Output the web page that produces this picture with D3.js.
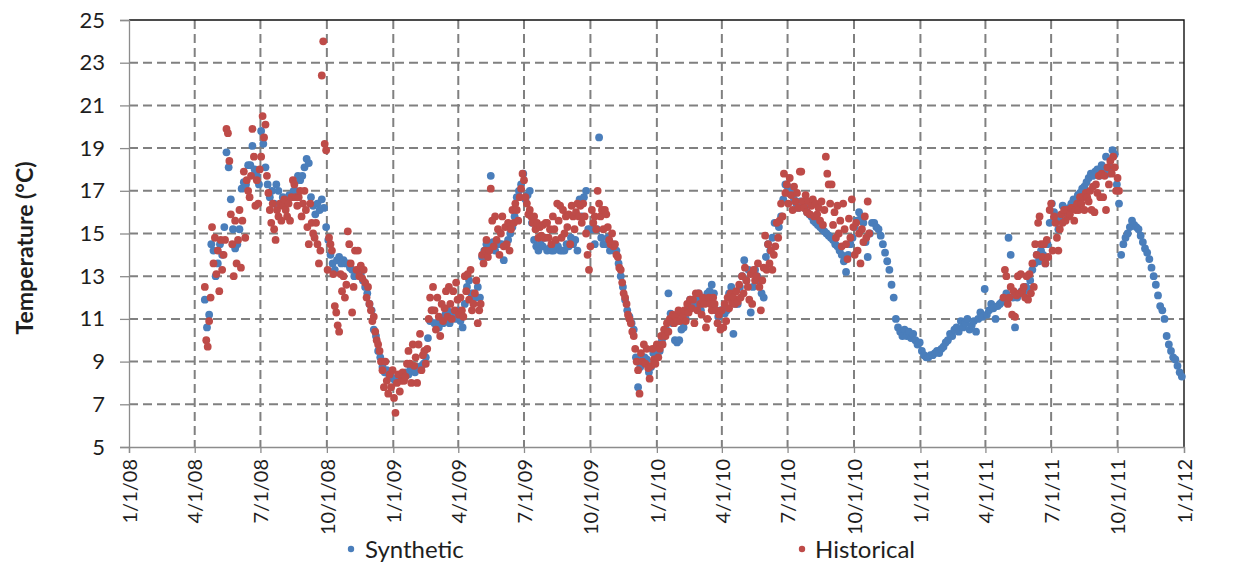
<!DOCTYPE html>
<html>
<head>
<meta charset="utf-8">
<script src="https://cdn.jsdelivr.net/npm/d3@7"></script>
<style>
  body { margin: 0; background: #ffffff; }
  svg { display: block; }
  text { font-family: Lato, "Open Sans", "Liberation Sans", sans-serif; fill: #1e1e1e; }
</style>
</head>
<body>
<svg id="chart" width="1237" height="566"></svg>
<script>
// ---------------- DATA ----------------
const yTickValues = [5, 7, 9, 11, 13, 15, 17, 19, 21, 23, 25];
const xTickLabels = ["1/1/08", "4/1/08", "7/1/08", "10/1/08", "1/1/09", "4/1/09", "7/1/09", "10/1/09",
  "1/1/10", "4/1/10", "7/1/10", "10/1/10", "1/1/11", "4/1/11", "7/1/11", "10/1/11", "1/1/12"];
const seriesNames = ["Synthetic", "Historical"];
const yTitle = "Temperature (°C)";

// Synthetic: one reading every 3 days from 2008-04-15
const synthStart = "2008-04-15";
const synthStepDays = 3;
const synthetic = [
  11.9, 10.6, 11.2, 14.5, 14.2, 13.0, 13.6, 14.5, 14.0, 15.3, 18.8, 18.1, 16.6, 15.2,
  14.3, 14.5, 15.2, 17.1, 17.4, 17.3, 18.2, 18.2, 19.1, 18.0, 17.7, 17.3, 19.8, 19.2, 18.1, 17.3, 16.7, 17.0,
  16.4, 17.3, 17.0, 16.4, 16.7, 16.4, 16.5, 16.8, 16.7, 17.0, 17.0, 17.7, 17.5, 17.7, 18.1, 18.5, 18.3,
  16.7, 16.3, 15.9, 16.4, 16.1, 16.6, 16.2, 15.3, 14.7, 14.0, 13.6, 13.3, 13.75, 13.9, 13.6, 13.75, 13.6,
  13.6, 13.4, 13.3, 13.0, 13.2, 13.3, 13.1, 12.8, 12.5, 12.2, 11.7, 11.4, 10.5, 10.2, 9.5, 9.2, 8.75,
  8.5, 8.6, 8.4, 8.3, 8.2, 8.1, 8.2, 8.3, 8.2, 8.3, 8.5, 8.4, 8.75, 8.6, 8.5, 8.75, 8.7,
  8.8, 8.9, 9.2, 10.1, 10.9, 11.4, 10.8, 10.8, 10.6, 11.0, 10.8, 11.2, 11.4, 10.8, 11.2, 11.3, 11.0,
  11.4, 10.9, 10.6, 11.7, 12.5, 12.8, 12.2, 12.2, 12.0, 12.5, 12.0, 13.9, 14.2, 14.5, 14.3, 17.7, 14.6,
  14.2, 14.5, 14.5, 14.5, 13.75, 14.5, 14.7, 15.0, 15.3, 15.8, 16.7, 17.0, 17.3, 17.8, 16.6, 16.8, 17.0,
  15.5, 14.7, 14.4, 14.2, 14.5, 14.4, 14.8, 14.2, 14.3, 14.2, 14.2, 14.5, 14.4, 14.2, 14.2, 14.2, 14.5,
  14.4, 14.8, 14.5, 14.7, 14.2, 16.6, 15.8, 16.7, 17.0, 15.2, 15.2, 15.2, 14.5, 15.2, 19.5, 14.8, 14.5,
  14.5, 14.8, 14.2, 14.5, 14.2, 14.2, 13.6, 13.0, 12.5, 11.9, 11.4, 11.1, 10.8, 10.5, 9.2, 7.8, 8.75,
  9.1, 9.2, 9.1, 8.5, 8.75, 9.4, 9.4, 9.2, 9.5, 10.0, 10.2, 10.5, 12.2, 11.25, 10.8, 10.0, 9.9,
  10.0, 10.5, 10.6, 11.0, 11.4, 11.9, 11.7, 11.7, 12.0, 12.2, 11.4, 11.9, 11.9, 12.2, 12.3, 12.6, 12.2,
  11.4, 11.1, 11.4, 11.4, 11.25, 11.4, 12.2, 12.5, 10.3, 11.7, 11.7, 12.5, 13.0, 13.75, 12.8, 13.3, 11.3,
  12.5, 13.3, 13.0, 12.8, 12.2, 12.0, 13.9, 14.5, 14.2, 14.8, 15.5, 15.5, 15.3, 15.8, 16.6, 17.3, 17.2,
  17.0, 16.8, 16.6, 16.4, 16.2, 16.5, 16.4, 16.2, 16.0, 15.9, 15.8, 15.6, 15.5, 15.4, 15.3, 15.2, 15.1,
  15.0, 14.9, 14.8, 14.7, 14.5, 14.4, 14.2, 14.0, 13.7, 13.2, 14.0, 14.5, 14.8, 15.3, 15.6, 16.0, 15.8,
  15.5, 14.6, 13.9, 15.0, 15.5, 15.5, 15.3, 15.2, 14.9, 14.5, 14.1, 13.7, 13.3, 12.6, 12.0, 11.0, 10.6,
  10.4, 10.2, 10.5, 10.2, 10.4, 10.1, 10.3, 10.0, 9.8, 9.9, 9.5, 9.3, 9.2, 9.2, 9.3, 9.3, 9.4,
  9.5, 9.4, 9.6, 9.7, 9.9, 10.0, 10.3, 10.2, 10.5, 10.6, 10.4, 10.9, 10.6, 10.8, 11.0, 10.5, 10.7,
  10.9, 10.4, 11.0, 11.3, 11.1, 12.4, 11.2, 11.4, 11.7, 11.5, 11.0, 11.6, 11.7, 11.8, 12.0, 12.2, 14.8,
  14.0, 12.0, 10.6, 12.0, 12.2, 12.3, 12.2, 12.5, 12.4, 12.8, 13.3, 13.6, 14.0, 13.7, 14.2, 14.0, 13.6,
  14.5, 15.5, 16.4, 16.0, 15.8, 15.2, 15.6, 16.3, 16.0, 15.8, 16.2, 16.4, 16.6, 16.5, 16.8, 16.9, 17.1,
  17.2, 17.4, 17.6, 17.8, 17.7, 17.9, 18.0, 17.7, 18.2, 18.0, 18.6, 17.8, 18.1, 18.9, 18.7, 17.3, 16.4,
  14.0, 14.5, 14.8, 15.0, 15.3, 15.6, 15.4, 15.3, 15.2, 14.9, 14.6, 14.3, 14.1, 13.8, 13.4, 13.0, 12.6,
  12.1, 11.6, 11.4, 11.0, 10.2, 9.8, 9.5, 9.2, 9.1, 8.8, 8.5, 8.3
];

// Historical: one reading every 2 days, two recorded periods
const histStepDays = 2;
const histStartA = "2008-04-15";
const historicalA = [
  12.5, 10.0, 9.7, 10.9, 12.0, 15.3, 13.6, 14.8, 13.1, 14.2, 12.3, 14.7, 13.3, 14.0, 14.7,
  19.9, 19.7, 18.4, 15.9, 14.5, 13.0, 15.6, 13.6, 14.7, 16.1, 13.4, 15.6, 17.9, 14.8, 17.5, 17.0,
  16.7, 17.7, 19.9, 18.6, 16.3, 17.5, 16.4, 18.0, 18.6, 20.5, 19.5, 20.1, 17.7, 16.9, 16.1, 15.5,
  16.4, 15.2, 14.7, 16.1, 15.8, 16.4, 15.6, 16.3, 16.6, 16.1, 15.8, 16.4, 15.6, 16.7, 17.5, 17.3,
  16.7, 16.3, 16.7, 17.0, 15.8, 16.4, 17.0, 16.1, 15.3, 14.5, 16.4, 15.5, 15.0, 14.8, 15.5, 14.5,
  13.6, 14.2, 22.4, 24.0, 19.2, 18.9, 13.3, 14.8, 14.5, 14.2, 13.1, 11.6, 11.3, 10.7, 10.4, 13.1,
  12.3, 13.0, 12.0, 12.6, 15.1, 14.5, 13.6, 11.3, 12.5, 14.2, 13.3, 14.2, 13.0, 13.5, 12.9, 13.3,
  12.7, 12.0, 12.5, 11.7, 11.4, 10.9, 11.1, 10.4, 10.0, 9.8, 9.5, 9.0, 8.6, 7.8, 9.0, 8.1,
  7.5, 8.4, 7.8, 8.6, 7.3, 6.6, 8.0, 8.4, 7.6, 8.1, 8.5, 8.1, 8.3, 8.9, 9.5, 8.9,
  8.0, 9.8, 8.8, 9.2, 8.0, 9.8, 10.3, 8.6, 9.3, 9.5, 8.9, 9.6, 11.0, 12.0, 11.4, 12.5,
  11.4, 10.5, 12.0, 11.1, 10.2, 11.7, 10.9, 11.5, 12.3, 11.1, 12.5, 11.7, 11.0, 12.3, 11.4, 12.7,
  11.9, 11.2, 12.0, 11.4, 11.1, 13.0, 12.3, 13.1, 11.9, 13.3, 11.4, 11.7, 12.2, 12.8, 10.8, 11.4,
  11.7, 14.0, 13.6, 14.2, 14.7, 13.9, 14.2, 17.1, 15.6, 14.4, 15.8, 14.7, 15.2, 14.0, 15.0, 15.8,
  14.4, 15.3, 14.5, 15.5, 14.2, 15.2, 16.1, 15.5, 16.4, 16.1, 15.6, 16.7, 17.1, 17.8, 17.5, 16.7,
  16.4, 15.9, 16.1, 15.8, 15.5, 15.8, 15.2, 15.5, 14.8, 15.3, 14.9, 15.4, 14.8, 15.5, 15.5, 14.8,
  15.2, 14.5, 15.8, 15.2, 14.7, 16.4, 15.6, 16.3, 14.8, 16.1, 15.0, 15.8, 15.3, 15.9, 14.5, 16.3,
  15.8, 15.2, 16.0, 16.4, 15.8, 16.3, 15.5, 16.4, 15.8, 15.0, 14.0, 13.3, 14.4, 16.1, 15.5, 15.8,
  15.2, 17.0, 16.4, 15.8, 16.1, 15.2, 16.1, 15.9, 15.3, 14.7, 14.5, 15.0, 14.4, 14.5, 14.0, 13.9,
  13.4, 13.3, 12.7, 12.2, 12.0, 11.7, 11.2, 11.0, 10.8, 10.4, 10.2, 9.6, 9.0, 8.6, 7.5, 9.4,
  9.0, 9.8, 8.9, 9.6, 8.7, 8.2, 8.8, 9.6, 9.1, 8.9, 9.8, 9.2, 9.6, 10.2, 9.8, 10.5,
  10.2, 10.8, 10.4, 11.0, 10.9, 11.2, 10.8, 11.1, 10.9, 11.4, 10.9, 11.3, 11.1, 11.4, 10.9, 11.7,
  11.3, 11.9, 11.5, 11.9, 10.8, 12.2, 11.4, 12.2, 11.7, 11.2, 12.0, 11.7, 10.6, 11.0, 12.0, 11.7,
  11.4, 12.0, 11.7, 11.4, 10.8, 11.2, 10.5, 11.4, 10.6, 11.7, 10.9, 12.0, 11.5, 12.2, 11.8, 12.0,
  11.7, 12.3, 11.8, 12.6, 12.0, 13.0, 12.2, 13.4, 12.8, 12.5, 11.9, 13.1, 11.7, 13.3, 12.8, 13.0,
  13.6, 12.5, 11.4, 12.8, 13.4, 14.9, 13.3, 14.5, 13.6, 14.2, 13.3, 14.0, 14.4, 15.5, 14.8, 15.6,
  16.4, 15.8, 17.8, 16.9, 17.3, 16.4, 17.6, 16.8, 16.1, 17.2, 16.5, 16.9, 16.2, 17.9, 17.9, 16.5,
  16.2, 16.8, 16.0, 16.5, 15.9, 16.3, 16.6, 15.8, 16.4, 15.9, 16.2, 15.6, 16.5, 15.4, 16.1, 18.6,
  17.8, 17.3, 16.4, 17.3, 15.4, 16.0, 14.8, 16.3, 15.0, 15.6, 14.4, 16.4, 15.2, 14.5, 13.8, 15.7,
  14.8, 16.6, 15.3, 14.0, 15.5, 14.2, 15.0, 13.6, 15.2, 14.6, 15.8, 14.8, 16.5, 15.0
];
const histStartB = "2011-04-26";
const historicalB = [
  12.0, 13.3, 13.0, 11.7, 12.0, 12.5, 11.2, 12.3, 11.1, 12.1, 13.0, 12.2, 13.1, 12.3, 12.5, 12.0,
  13.0, 11.9, 13.1, 12.2, 13.6, 12.5, 14.5, 14.0, 15.5, 15.8, 14.5, 13.9, 14.5, 13.6, 14.7, 13.9,
  16.1, 16.4, 14.2, 15.8, 15.5, 14.8, 14.2, 15.2, 15.9, 15.5, 16.1, 15.6, 16.1, 15.8, 15.9, 16.2,
  16.2, 15.6, 16.1, 16.4, 16.1, 16.7, 16.4, 16.7, 16.1, 16.9, 16.7, 16.5, 17.0, 16.1, 17.2, 16.0,
  17.3, 16.9, 17.7, 16.7, 17.8, 16.7, 17.7, 16.1, 18.1, 17.3, 18.4, 17.8, 18.6, 18.1, 17.0, 17.6, 17.0
];

// ---------------- CHART ----------------
const W = 1237, H = 566;
const M = { left: 129, right: 1184, top: 20, bottom: 447 };
const colors = { Synthetic: "#4A7EBB", Historical: "#BE4B48" };

const parseDay = d3.utcParse("%Y-%m-%d");
const parseTick = d3.utcParse("%m/%d/%y");
const xTickDates = xTickLabels.map(parseTick);

function toPoints(startStr, step, values) {
  const s = parseDay(startStr);
  return values.map((v, i) => ({ date: d3.utcDay.offset(s, i * step), value: v }));
}
const synthPts = toPoints(synthStart, synthStepDays, synthetic);
const histPts = toPoints(histStartA, histStepDays, historicalA)
  .concat(toPoints(histStartB, histStepDays, historicalB));

const x = d3.scaleUtc()
  .domain([xTickDates[0], xTickDates[xTickDates.length - 1]])
  .range([M.left, M.right]);
const y = d3.scaleLinear().domain([5, 25]).range([M.bottom, M.top]);

const svg = d3.select("#chart");

// gridlines
const gridColor = "#808080";
svg.append("g").selectAll("line")
  .data(yTickValues.filter(v => v !== 5 && v !== 25))
  .join("line")
  .attr("x1", M.left).attr("x2", M.right)
  .attr("y1", d => y(d)).attr("y2", d => y(d))
  .attr("stroke", gridColor).attr("stroke-width", 2)
  .attr("stroke-dasharray", "9,5");
svg.append("g").selectAll("line")
  .data(xTickDates.slice(1, -1))
  .join("line")
  .attr("x1", d => x(d)).attr("x2", d => x(d))
  .attr("y1", M.top).attr("y2", M.bottom)
  .attr("stroke", gridColor).attr("stroke-width", 2)
  .attr("stroke-dasharray", "9,5");

// border top/right
svg.append("path")
  .attr("d", `M${M.left},${M.top}H${M.right}V${M.bottom}`)
  .attr("fill", "none").attr("stroke", "#111").attr("stroke-width", 1.4);

// y axis
const yAxis = svg.append("g")
  .attr("transform", `translate(${M.left},0)`)
  .call(d3.axisLeft(y).tickValues(yTickValues).tickSize(9).tickPadding(15).tickFormat(d3.format("d")));
yAxis.select(".domain").attr("stroke", "#8c8c8c").attr("stroke-width", 1.3);
yAxis.selectAll(".tick line").attr("stroke", "#8c8c8c").attr("stroke-width", 1.3);
yAxis.selectAll(".tick text").attr("font-family", "Lato").attr("font-size", 22).attr("fill", "#1e1e1e");

// x axis
const xAxis = svg.append("g")
  .attr("transform", `translate(0,${M.bottom})`)
  .call(d3.axisBottom(x).tickValues(xTickDates).tickSize(6).tickFormat((d, i) => xTickLabels[i]));
xAxis.select(".domain").attr("stroke", "#8c8c8c").attr("stroke-width", 1.3);
xAxis.selectAll(".tick line").attr("stroke", "#8c8c8c").attr("stroke-width", 1.3);
xAxis.selectAll(".tick text")
  .attr("font-family", "Lato").attr("font-size", 20).attr("fill", "#1e1e1e")
  .attr("text-anchor", "end")
  .attr("transform", "rotate(-90)")
  .attr("x", -12).attr("y", 0).attr("dy", "0.36em");

// y title
svg.append("text")
  .attr("transform", `translate(33,248) rotate(-90)`)
  .attr("text-anchor", "middle")
  .attr("font-family", "Lato").attr("font-weight", "bold").attr("font-size", 23)
  .text(yTitle);

// points
const plot = svg.append("g");
plot.append("g").selectAll("circle").data(synthPts).join("circle")
  .attr("cx", d => x(d.date)).attr("cy", d => y(d.value)).attr("r", 3.9)
  .attr("fill", colors.Synthetic);
plot.append("g").selectAll("circle").data(histPts).join("circle")
  .attr("cx", d => x(d.date)).attr("cy", d => y(d.value)).attr("r", 3.9)
  .attr("fill", colors.Historical);

// legend
const legendPos = [{ name: seriesNames[0], cx: 351, tx: 365 }, { name: seriesNames[1], cx: 802, tx: 815 }];
const lg = svg.append("g");
legendPos.forEach(p => {
  lg.append("circle").attr("cx", p.cx).attr("cy", 549).attr("r", 3.2).attr("fill", colors[p.name]);
  lg.append("text").attr("x", p.tx).attr("y", 557.5)
    .attr("font-family", "Lato").attr("font-size", 24).text(p.name);
});
</script>
</body>
</html>
